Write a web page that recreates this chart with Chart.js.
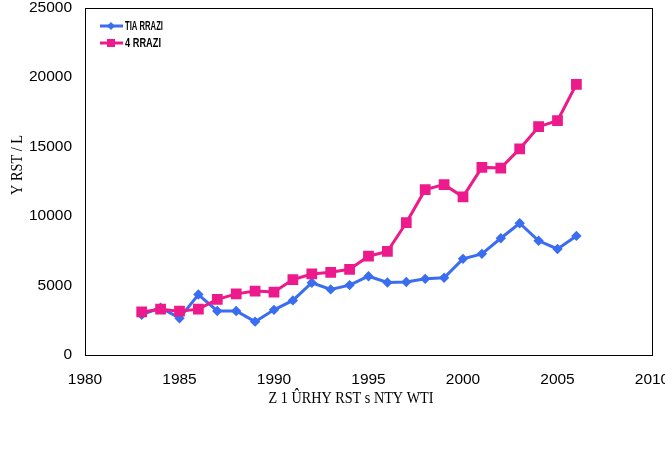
<!DOCTYPE html>
<html><head><meta charset="utf-8">
<script src="https://cdn.jsdelivr.net/npm/chart.js@4"></script>
<style>html,body{margin:0;padding:0;background:#fff}</style>
</head><body>
<canvas id="c" width="665" height="458"></canvas>
<script>
const years = [1983,1984,1985,1986,1987,1988,1989,1990,1991,1992,1993,1994,1995,1996,1997,1998,1999,2000,2001,2002,2003,2004,2005,2006];
const seriesA = [2900,3400,2650,4350,3170,3170,2400,3250,3930,5200,4720,5030,5670,5220,5250,5480,5560,6920,7280,8400,9480,8220,7630,8570];
const seriesB = [3100,3300,3150,3300,4000,4400,4600,4530,5430,5830,5950,6170,7110,7450,9520,11900,12260,11380,13500,13450,14830,16430,16860,19480];
const seriesNames = ['TIA RRAZI', '4 RRAZI'];
const xTicks = [1980,1985,1990,1995,2000,2005,2010];
const yTicks = [0,5000,10000,15000,20000,25000];
const xTitle = 'Z 1 \u00DBRHY RST s NTY WTI';
const yTitle = 'Y RST / L';

const BLUE = '#3a6df0';
const PINK = '#ec1a8a';

const toPts = arr => years.map((y, i) => ({x: y, y: arr[i]}));
const noPad = s => { s.paddingTop = 0; s.paddingBottom = 0; s.paddingLeft = 0; s.paddingRight = 0; };

function fitText(ctx, text, x, y, width, align) {
  const w = ctx.measureText(text).width;
  const k = Math.min(1, width / w);
  ctx.save();
  ctx.translate(x, y);
  ctx.scale(k, 1);
  ctx.textAlign = align;
  ctx.fillText(text, 0, 0);
  ctx.restore();
}

const deco = {
  id: 'deco',
  afterDraw(chart) {
    const ctx = chart.ctx, a = chart.chartArea;
    ctx.save();
    ctx.strokeStyle = '#000';
    ctx.lineWidth = 1;
    ctx.strokeRect(Math.round(a.left) + 0.5, Math.round(a.top) + 0.5, Math.round(a.right - a.left), Math.round(a.bottom - a.top));
    // legend
    const items = [
      {c: BLUE, s: 'rectRot', r: 3.8, y: 26, t: seriesNames[0], w: 38},
      {c: PINK, s: 'rect', r: 5.6, y: 43, t: seriesNames[1], w: 36}
    ];
    items.forEach(it => {
      ctx.strokeStyle = it.c; ctx.lineWidth = 3;
      ctx.beginPath(); ctx.moveTo(100, it.y); ctx.lineTo(123, it.y); ctx.stroke();
      ctx.fillStyle = it.c;
      Chart.helpers.drawPoint(ctx, {pointStyle: it.s, radius: it.r, borderWidth: 0}, 111, it.y);
      ctx.fill();
      ctx.fillStyle = '#000';
      ctx.textBaseline = 'middle';
      ctx.font = "bold 13px 'Liberation Sans', sans-serif";
      fitText(ctx, it.t, 125, it.y, it.w, 'left');
    });
    // x title
    ctx.fillStyle = '#000';
    ctx.textBaseline = 'middle';
    ctx.font = "17px 'Liberation Serif', serif";
    fitText(ctx, xTitle, 351, 399, 165, 'center');
    // y title
    ctx.translate(18, 165);
    ctx.rotate(-Math.PI / 2);
    fitText(ctx, yTitle, 0, 0, 60, 'center');
    ctx.restore();
  }
};

new Chart(document.getElementById('c'), {
  type: 'line',
  data: {
    datasets: [
      {label: seriesNames[0], data: toPts(seriesA), borderColor: BLUE, backgroundColor: BLUE,
       borderWidth: 3, pointStyle: 'rectRot', pointRadius: 5.2, pointBorderWidth: 0, order: 2, tension: 0},
      {label: seriesNames[1], data: toPts(seriesB), borderColor: PINK, backgroundColor: PINK,
       borderWidth: 3, pointStyle: 'rect', pointRadius: 7.6, pointBorderWidth: 0, order: 1, tension: 0}
    ]
  },
  options: {
    responsive: false,
    devicePixelRatio: 1,
    animation: false,
    layout: {padding: {left: 0, top: 5, right: 13, bottom: 0}},
    plugins: {legend: {display: false}, tooltip: {enabled: false}},
    scales: {
      x: {
        type: 'linear', min: 1980, max: 2010,
        afterBuildTicks: s => { s.ticks = xTicks.map(v => ({value: v})); },
        afterFit: s => { s.height = 103; noPad(s); },
        grid: {display: false, drawTicks: false},
        border: {display: false},
        ticks: {padding: 15, color: '#000', font: {family: "'Liberation Sans', Arial, sans-serif", size: 15.5},
                callback: v => String(v), maxRotation: 0, autoSkip: false}
      },
      y: {
        min: 0, max: 25000,
        afterBuildTicks: s => { s.ticks = yTicks.map(v => ({value: v})); },
        afterFit: s => { s.width = 85; noPad(s); },
        grid: {display: false, drawTicks: false},
        border: {display: false},
        ticks: {padding: 13, color: '#000', font: {family: "'Liberation Sans', Arial, sans-serif", size: 15.5},
                callback: v => String(v)}
      }
    }
  },
  plugins: [deco]
});
</script>
</body></html>
